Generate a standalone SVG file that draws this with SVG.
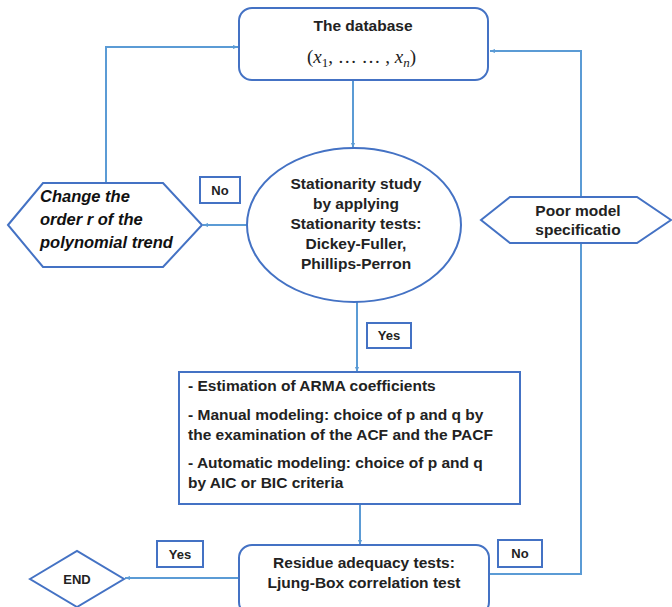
<svg xmlns="http://www.w3.org/2000/svg" width="672" height="607" viewBox="0 0 672 607">
<defs>
<marker id="arr" viewBox="0 0 10 10" refX="10" refY="5" markerWidth="5" markerHeight="5" orient="auto" markerUnits="userSpaceOnUse">
<path d="M0,1 L10,5 L0,9 z" fill="#5B9BD5"/>
</marker>
<style>
.box{fill:#fff;stroke:#4472C4;stroke-width:2}
.con{fill:none;stroke:#5B9BD5;stroke-width:2}
.t{font-family:"Liberation Sans",Arial,sans-serif;font-weight:bold;font-size:15.5px;fill:#222}
.tc{text-anchor:middle}
.it{font-family:"Liberation Sans",Arial,sans-serif;font-weight:bold;font-style:italic;font-size:16.5px;fill:#111}
.lbl{font-family:"Liberation Sans",Arial,sans-serif;font-weight:bold;font-size:13px;fill:#222;text-anchor:middle}
.m{font-family:"Liberation Serif","Times New Roman",serif;font-size:19px;fill:#222}
</style>
</defs>
<rect width="672" height="607" fill="#fff"/>
<g id="connectors">
<line class="con" x1="353" y1="80" x2="353" y2="148" marker-end="url(#arr)"/>
<line class="con" x1="247" y1="225" x2="203" y2="225" marker-end="url(#arr)"/>
<polyline class="con" points="106,183 106,47 238,47" marker-end="url(#arr)"/>
<line class="con" x1="357" y1="302" x2="357" y2="372" marker-end="url(#arr)"/>
<line class="con" x1="360" y1="504" x2="360" y2="545" marker-end="url(#arr)"/>
<line class="con" x1="238" y1="578" x2="125" y2="578" marker-end="url(#arr)"/>
<polyline class="con" points="490,574 581,574 581,51 490,51" marker-end="url(#arr)"/>
</g>
<g id="database">
<rect class="box" x="239" y="8" width="249" height="72" rx="13"/>
<text class="t tc" x="363" y="31">The database</text>
<text class="m" x="307" y="63">(<tspan font-style="italic">x</tspan><tspan font-size="13" dy="4">1</tspan><tspan dy="-4">, … … , </tspan><tspan font-style="italic">x</tspan><tspan font-size="13" font-style="italic" dy="4">n</tspan><tspan dy="-4">)</tspan></text>
</g>
<g id="stationarity">
<ellipse class="box" cx="354" cy="225" rx="107" ry="77"/>
<text class="t tc" x="356" y="189">Stationarity study</text>
<text class="t tc" x="356" y="209">by applying</text>
<text class="t tc" x="356" y="229">Stationarity tests:</text>
<text class="t tc" x="356" y="249">Dickey-Fuller,</text>
<text class="t tc" x="356" y="269">Phillips-Perron</text>
</g>
<g id="change-order">
<polygon class="box" points="8,225 43,183 163,183 202,225 163,267 43,267"/>
<text class="it" x="40" y="202">Change the</text>
<text class="it" x="40" y="225">order r of the</text>
<text class="it" x="40" y="248">polynomial trend</text>
</g>
<g id="label-no-1">
<rect class="box" x="200" y="177" width="40" height="26"/>
<text class="lbl" x="220" y="195">No</text>
</g>
<g id="poor-model">
<polygon class="box" points="481,220 510,197 637,197 671,220 637,243 510,243"/>
<text class="t tc" x="578" y="216">Poor model</text>
<text class="t tc" x="578" y="235">specificatio</text>
</g>
<g id="label-yes-1">
<rect class="box" x="367" y="323" width="44" height="25"/>
<text class="lbl" x="389" y="340">Yes</text>
</g>
<g id="arma">
<rect class="box" x="179" y="372" width="341" height="132"/>
<text class="t" x="188" y="391">- Estimation of ARMA coefficients</text>
<text class="t" x="188" y="420">- Manual modeling: choice of p and q by</text>
<text class="t" x="188" y="440">the examination of the ACF and the PACF</text>
<text class="t" x="188" y="468">- Automatic modeling: choice of p and q</text>
<text class="t" x="188" y="488">by AIC or BIC criteria</text>
</g>
<g id="residue">
<rect class="box" x="239" y="545" width="250" height="70" rx="13"/>
<text class="t tc" x="364" y="568">Residue adequacy tests:</text>
<text class="t tc" x="364" y="588">Ljung-Box correlation test</text>
</g>
<g id="end">
<polygon class="box" points="30,579 77,551 124,579 77,607"/>
<text class="lbl" x="77" y="584">END</text>
</g>
<g id="label-yes-2">
<rect class="box" x="157" y="541" width="46" height="26"/>
<text class="lbl" x="180" y="559">Yes</text>
</g>
<g id="label-no-2">
<rect class="box" x="498" y="540" width="44" height="27"/>
<text class="lbl" x="520" y="558">No</text>
</g>
</svg>
